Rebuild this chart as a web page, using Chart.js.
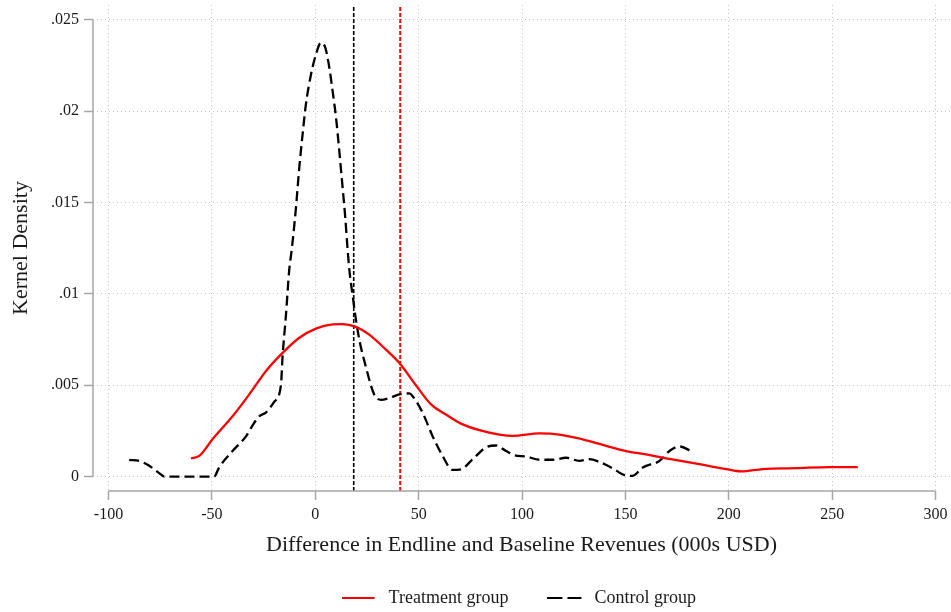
<!DOCTYPE html>
<html>
<head>
<meta charset="utf-8">
<script src="https://cdn.jsdelivr.net/npm/chart.js@4"></script>
<style>
    html, body { margin: 0; padding: 0; background: #fff; }
    #wrap { width: 951px; height: 612px; }
</style>
</head>
<body>
<div id="wrap"><canvas id="densityChart"></canvas></div>
<script>
// values
const treatX = [-60.1, -56.1, -49.7, -40, -31.9, -23.9, -15.8, -7.7, 0.3, 8.4, 13.2, 19.7, 26.1, 34.2, 40.6, 48.7, 56, 63.2, 70.5, 79.4, 89, 95.5, 108.4, 118.1, 129.3, 140.7, 150.3, 160, 169.7, 180.9, 185.8, 198.7, 206, 216.4, 232.6, 248.7, 262.4];
const treatY = [0.00099, 0.00113, 0.00204, 0.0033, 0.0045, 0.00577, 0.00677, 0.0076, 0.0081, 0.00833, 0.00835, 0.0082, 0.00777, 0.00695, 0.00623, 0.0050, 0.00395, 0.0034, 0.0029, 0.00254, 0.0023, 0.00223, 0.00236, 0.0023, 0.00204, 0.00168, 0.0014, 0.00121, 0.001, 0.00078, 0.00068, 0.00041, 0.00028, 0.00041, 0.00046, 0.00052, 0.00052];

const controlX = [-90, -85, -80.3, -75.5, -73, -60, -48.9, -46.5, -40, -33.5, -30.3, -27.1, -23.9, -19.8, -16.6, -15.8, -14.2, -12.6, -11.3, -9.3, -7.7, -6.1, -4.5, -2.1, 0.3, 2.7, 4.8, 6.8, 8.4, 10, 11.6, 13.2, 14.5, 15.6, 16.5, 18.1, 19.4, 21.3, 24.5, 28.5, 31.8, 35.8, 40.6, 45.5, 47.1, 51.9, 56.8, 61.6, 66.4, 70.5, 76.1, 82.6, 87.4, 92.3, 96.3, 101.9, 108.4, 114.8, 121.3, 127.7, 132.6, 137.4, 143.9, 149.5, 153.5, 158.4, 166.5, 171.3, 176.1, 181.8];
const controlY = [0.00092, 0.00085, 0.00059, 0.00019, 0, 0, 0, 0.0005, 0.0014, 0.0022, 0.0028, 0.0033, 0.0035, 0.0041, 0.0050, 0.0066, 0.0088, 0.0113, 0.0125, 0.01477, 0.01695, 0.01877, 0.0204, 0.0220, 0.0231, 0.02376, 0.0235, 0.0224, 0.0211, 0.0197, 0.01786, 0.01586, 0.0142, 0.0125, 0.0113, 0.0099, 0.0088, 0.0075, 0.0060, 0.0045, 0.0042, 0.0043, 0.0045, 0.00455, 0.0044, 0.0035, 0.0022, 0.00113, 0.00037, 0.0004, 0.00095, 0.0016, 0.0017, 0.0014, 0.00117, 0.0011, 0.00092, 0.00092, 0.00103, 0.00086, 0.00095, 0.0008, 0.00045, 0.00008, 0.00004, 0.0005, 0.00086, 0.0014, 0.00165, 0.0014];

const treatMean = 41.1;
const controlMean = 18.6;

const xTicks = [-100, -50, 0, 50, 100, 150, 200, 250, 300];
const yTicks = [0, 0.005, 0.01, 0.015, 0.02, 0.025];
const yTickLabels = ['0', '.005', '.01', '.015', '.02', '.025'];

const seriesNames = ['Treatment group', 'Control group'];
const xTitle = 'Difference in Endline and Baseline Revenues (000s USD)';
const yTitle = 'Kernel Density';

// plot region a bit wider than the data range (Stata style)
const X_MIN = -107.5, X_MAX = 307;
const Y_MIN = -0.00079, Y_MAX = 0.02582;

const serif = "'Liberation Serif', 'DejaVu Serif', serif";
const axisGray = '#a6a6a6';
const gridGray = '#c8c8c8';

function toPoints(xs, ys) {
    return xs.map((x, i) => ({ x: x, y: ys[i] }));
}

// little line samples for the legend (solid red, dashed black)
function legendSample(color, dashed) {
    const c = document.createElement('canvas');
    c.width = 43;
    c.height = 4;
    const g = c.getContext('2d');
    g.strokeStyle = color;
    g.lineWidth = 2;
    g.beginPath();
    if (dashed) {
        g.moveTo(0, 2); g.lineTo(15, 2);
        g.moveTo(20, 2); g.lineTo(34, 2);
    } else {
        g.moveTo(0, 2); g.lineTo(33, 2);
    }
    g.stroke();
    return c;
}

// axis lines only span the tick range, like the original
const axisLines = {
    id: 'axisLines',
    afterDraw(chart) {
        const ctx = chart.ctx;
        const xs = chart.scales.x;
        const ys = chart.scales.y;
        ctx.save();
        ctx.strokeStyle = axisGray;
        ctx.lineWidth = 1.5;
        ctx.beginPath();
        ctx.moveTo(xs.left, ys.getPixelForValue(yTicks[0]));
        ctx.lineTo(xs.left, ys.getPixelForValue(yTicks[yTicks.length - 1]));
        ctx.moveTo(xs.getPixelForValue(xTicks[0]), ys.bottom);
        ctx.lineTo(xs.getPixelForValue(xTicks[xTicks.length - 1]), ys.bottom);
        ctx.stroke();
        ctx.restore();
    }
};

// legend sits centred under the plot region rather than the whole canvas
const legendShift = {
    id: 'legendShift',
    afterLayout(chart) {
        chart.legend.left += 92.5;
    }
};

function noMargins(s) {
    s.paddingTop = 0;
    s.paddingBottom = 0;
    s.paddingLeft = 0;
    s.paddingRight = 0;
}

const ctx = document.getElementById('densityChart').getContext('2d');
const densityChart = new Chart(ctx, {
    type: 'line',
    data: {
        datasets: [
            {
                label: seriesNames[0],
                data: toPoints(treatX, treatY),
                borderColor: '#ff0000',
                backgroundColor: '#ff0000',
                borderWidth: 2.3,
                pointRadius: 0,
                pointStyle: legendSample('#ff0000', false),
                cubicInterpolationMode: 'monotone',
                fill: false
            },
            {
                label: seriesNames[1],
                data: toPoints(controlX, controlY),
                borderColor: '#000000',
                backgroundColor: '#000000',
                borderWidth: 2.3,
                borderDash: [10, 5],
                pointRadius: 0,
                pointStyle: legendSample('#000000', true),
                cubicInterpolationMode: 'monotone',
                fill: false
            },
            {
                label: 'controlMean',
                data: [{ x: controlMean, y: Y_MIN }, { x: controlMean, y: Y_MAX }],
                borderColor: '#000000',
                borderWidth: 1.6,
                borderDash: [4, 2],
                pointRadius: 0
            },
            {
                label: 'treatMean',
                data: [{ x: treatMean, y: Y_MIN }, { x: treatMean, y: Y_MAX }],
                borderColor: '#ff0000',
                borderWidth: 2,
                borderDash: [4, 2],
                pointRadius: 0
            }
        ]
    },
    options: {
        responsive: true,
        maintainAspectRatio: false,
        animation: false,
        layout: { padding: { top: 5, right: 1, bottom: -5, left: 0 } },
        plugins: {
            tooltip: { enabled: false },
            legend: {
                position: 'bottom',
                labels: {
                    filter: item => seriesNames.includes(item.text),
                    usePointStyle: true,
                    pointStyleWidth: 33,
                    boxWidth: 33,
                    padding: 44,
                    color: '#1a1a1a',
                    font: { family: serif, size: 18 }
                }
            }
        },
        scales: {
            x: {
                type: 'linear',
                min: X_MIN,
                max: X_MAX,
                afterBuildTicks: s => { s.ticks = xTicks.map(v => ({ value: v })); },
                afterFit: s => { s.height = 54; noMargins(s); },
                grid: {
                    color: gridGray,
                    lineWidth: 1,
                    tickLength: 9,
                    tickColor: axisGray,
                    tickWidth: 1.5
                },
                border: { display: false, dash: [1, 3] },
                ticks: {
                    padding: 5,
                    maxRotation: 0,
                    color: '#1a1a1a',
                    font: { family: serif, size: 16 },
                    callback: v => String(v)
                },
                title: {
                    display: true,
                    text: xTitle,
                    color: '#1a1a1a',
                    font: { family: serif, size: 22 },
                    padding: { top: 0, bottom: -13 }
                }
            },
            y: {
                type: 'linear',
                min: Y_MIN,
                max: Y_MAX,
                afterBuildTicks: s => { s.ticks = yTicks.map(v => ({ value: v })); },
                afterFit: s => { s.width = 93; noMargins(s); },
                grid: {
                    color: gridGray,
                    lineWidth: 1,
                    tickLength: 9,
                    tickColor: axisGray,
                    tickWidth: 1.5
                },
                border: { display: false, dash: [1, 3] },
                ticks: {
                    padding: 5,
                    color: '#1a1a1a',
                    font: { family: serif, size: 16 },
                    callback: v => yTickLabels[yTicks.indexOf(v)]
                },
                title: {
                    display: true,
                    text: yTitle,
                    color: '#1a1a1a',
                    font: { family: serif, size: 22 },
                    padding: { top: 8, bottom: 0 }
                }
            }
        }
    },
    plugins: [axisLines, legendShift]
});
</script>
</body>
</html>
